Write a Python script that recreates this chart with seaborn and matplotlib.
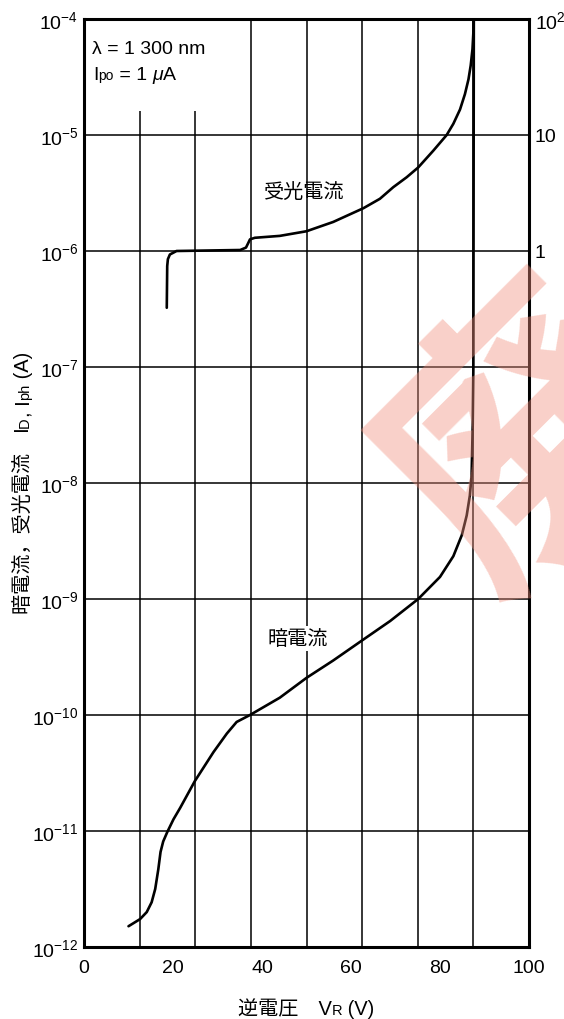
import numpy as np
import pandas as pd
import matplotlib
matplotlib.use("Agg")
import matplotlib.pyplot as plt
import seaborn as sns

# ---------------- data ----------------
dark_v = [10.0, 12.6, 14.1, 15.2, 16.0, 16.7, 17.2, 17.8, 18.7, 20.1, 21.6, 24.9, 29.1,
          32.1, 34.3, 37.3, 44.0, 50.0, 56.0, 62.4, 68.8, 75.1, 80.0, 83.0, 84.9, 86.0,
          86.7, 87.1, 87.35, 87.5, 87.6]
dark_i = [1.51e-12, 1.74e-12, 2.0e-12, 2.43e-12, 3.16e-12, 4.68e-12, 6.6e-12, 8.13e-12,
          9.77e-12, 1.26e-11, 1.58e-11, 2.69e-11, 4.79e-11, 6.92e-11, 8.71e-11, 1.0e-10,
          1.41e-10, 2.09e-10, 2.95e-10, 4.37e-10, 6.46e-10, 1.0e-9, 1.55e-9, 2.34e-9,
          3.55e-9, 5.25e-9, 7.76e-9, 1.15e-8, 3.16e-8, 1.0e-7, 1.0e-4]

photo_v = [18.6, 18.7, 18.85, 19.3, 20.8, 35.1, 36.4, 36.9, 37.3, 38.4, 44.0, 50.0,
           56.0, 62.8, 66.5, 69.5, 72.5, 75.1, 78.5, 81.5, 83.0, 84.5, 85.6, 86.4, 86.9,
           87.3, 87.5, 87.55]
photo_i = [3.24e-7, 7.41e-7, 8.5e-7, 9.33e-7, 1.0e-6, 1.02e-6, 1.07e-6, 1.17e-6, 1.26e-6,
           1.30e-6, 1.35e-6, 1.48e-6, 1.78e-6, 2.34e-6, 2.82e-6, 3.55e-6, 4.32e-6,
           5.25e-6, 7.33e-6, 1.0e-5, 1.25e-5, 1.66e-5, 2.25e-5, 3.02e-5, 3.98e-5,
           5.5e-5, 7.67e-5, 1.0e-4]

x_ticks = [0, 20, 40, 60, 80, 100]
y_ticks = [1e-12, 1e-11, 1e-10, 1e-9, 1e-8, 1e-7, 1e-6, 1e-5, 1e-4]
y_ticklabels = [r"$10^{-12}$", r"$10^{-11}$", r"$10^{-10}$", r"$10^{-9}$", r"$10^{-8}$",
                r"$10^{-7}$", r"$10^{-6}$", r"$10^{-5}$", r"$10^{-4}$"]
right_ticks = [1e-6, 1e-5, 1e-4]
right_ticklabels = ["1", "10", r"$10^{2}$"]

grid_full_x = [37.5, 50.0, 62.5, 75.0, 87.5]
grid_short_x = [12.5, 25.0]
grid_short_top = 1.6e-5
grid_y = [1e-11, 1e-10, 1e-9, 1e-8, 1e-7, 1e-6, 1e-5]

xlabel_parts = [("逆電圧　V", 14.5), ("R", 10.5), (" (V)", 14.5)]
ylabel_parts = [("暗電流，受光電流　I", 14.5), ("D", 10.5), (", I", 14.5), ("ph", 10.5),
                (" (A)", 14.5)]
ipo_parts = [("I", 14), ("po", 10), (" = 1 ", 14), ("μ", 14, "italic"), ("A", 14)]

# ---------------- style ----------------
sns.set_theme(style="white")
FAM = ["Liberation Sans", "Noto Sans CJK JP", "DejaVu Sans"]
plt.rcParams["font.family"] = FAM
plt.rcParams["mathtext.fontset"] = "custom"
plt.rcParams["mathtext.rm"] = "Liberation Sans"
plt.rcParams["mathtext.it"] = "Liberation Sans:italic"
plt.rcParams["mathtext.bf"] = "Liberation Sans:bold"
plt.rcParams["text.color"] = "black"
plt.rcParams["xtick.color"] = "black"
plt.rcParams["ytick.color"] = "black"

W, H = 564, 1020
fig = plt.figure(figsize=(W / 100, H / 100), dpi=100)
ax = fig.add_axes([84 / W, 1 - 948 / H, (529 - 84) / W, (948 - 20) / H])
ax.set_yscale("log")
ax.set_xlim(0, 100)
ax.set_ylim(1e-12, 1e-4)

# grid
ax.hlines(grid_y, 0, 100, colors="black", linewidth=1.1, zorder=1)
ax.vlines(grid_full_x, 1e-12, 1e-4, colors="black", linewidth=1.1, zorder=1)
ax.vlines(grid_short_x, 1e-12, grid_short_top, colors="black", linewidth=1.1, zorder=1)

dark_df = pd.DataFrame({"V": dark_v, "I": dark_i})
photo_df = pd.DataFrame({"V": photo_v, "I": photo_i})
sns.lineplot(data=dark_df, x="V", y="I", sort=False, color="black", linewidth=1.9,
             ax=ax, zorder=3)
sns.lineplot(data=photo_df, x="V", y="I", sort=False, color="black", linewidth=1.9,
             ax=ax, zorder=3)

for s in ax.spines.values():
    s.set_color("black")
    s.set_linewidth(2.2)

ax.set_xticks(x_ticks)
ax.set_xticklabels([str(v) for v in x_ticks])
ax.set_yticks(y_ticks)
ax.set_yticklabels(y_ticklabels)
ax.yaxis.set_minor_locator(matplotlib.ticker.NullLocator())
ax.tick_params(axis="both", length=0, labelsize=14)
ax.tick_params(axis="x", pad=9)
ax.tick_params(axis="y", pad=4)
ax.set_xlabel("")
ax.set_ylabel("")

ax2 = ax.twinx()
ax2.set_yscale("log")
ax2.set_ylim(1e-12, 1e-4)
ax2.set_yticks(right_ticks)
ax2.set_yticklabels(right_ticklabels)
ax2.yaxis.set_minor_locator(matplotlib.ticker.NullLocator())
ax2.tick_params(axis="y", length=0, labelsize=14, pad=4)
for s in ax2.spines.values():
    s.set_visible(False)

renderer = fig.canvas.get_renderer()


def chain_text(parts, px, py, rotation=0, align="left"):
    """Place text pieces one after another along the baseline (pixel coords, top-left origin)."""
    made = []
    for p in parts:
        style = p[2] if len(p) > 2 else "normal"
        t = fig.text(0, 0, p[0], fontsize=p[1], fontstyle=style, family=FAM,
                     ha="left", va="baseline", rotation=rotation, rotation_mode="anchor")
        made.append(t)
    lengths = []
    for t in made:
        bb = t.get_window_extent(renderer)
        lengths.append(bb.height if rotation == 90 else bb.width)
    total = sum(lengths)
    pos = px - total / 2 if (align == "center" and rotation == 0) else px
    posy = py + total / 2 if (align == "center" and rotation == 90) else py
    for t, L in zip(made, lengths):
        if rotation == 90:
            t.set_position((px / W, 1 - posy / H))
            posy -= L
        else:
            t.set_position((pos / W, 1 - py / H))
            pos += L
    return made


# annotations
ax.text(1.8, 10 ** -4.25, "λ = 1 300 nm", fontsize=14, va="center", ha="left")
chain_text(ipo_parts, 93, 80)
ax.text(49.4, 10 ** -5.49, "受光電流", fontsize=14.5, va="center", ha="center",
        family=["Noto Sans CJK JP"])
ax.text(48.0, 10 ** -9.34, "暗電流", fontsize=14.5, va="center", ha="center",
        family=["Noto Sans CJK JP"], zorder=4,
        bbox=dict(facecolor="white", edgecolor="none", pad=1.5))

chain_text(xlabel_parts, 306, 1015, align="center")
chain_text(ylabel_parts, 29, 483, rotation=90, align="center")

# watermark
fig.text(532 / W, 1 - 444 / H, "廃", fontsize=200, color="#f1907e", alpha=0.42,
         ha="center", va="center", rotation=45, family=["Noto Sans CJK JP"],
         fontweight="bold", zorder=10)

fig.savefig("out.png", dpi=100)
